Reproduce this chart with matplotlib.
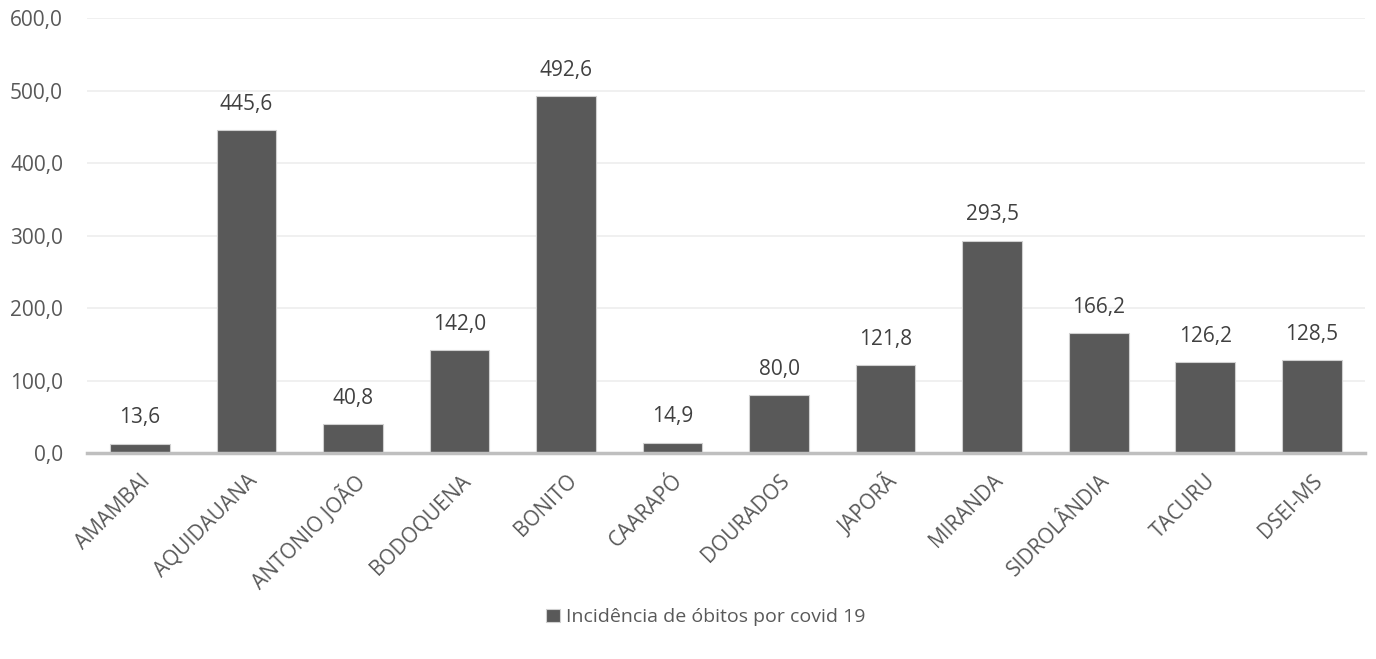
import matplotlib.pyplot as plt

# Data
municipios = ['AMAMBAI', 'AQUIDAUANA', 'ANTONIO JOÃO', 'BODOQUENA', 'BONITO', 'CAARAPÓ',
              'DOURADOS', 'JAPORÃ', 'MIRANDA', 'SIDROLÂNDIA', 'TACURU', 'DSEI-MS']
incidencia = [13.6, 445.6, 40.8, 142.0, 492.6, 14.9, 80.0, 121.8, 293.5, 166.2, 126.2, 128.5]
y_ticks = [0, 100, 200, 300, 400, 500, 600]

plt.rcParams['font.family'] = ['Open Sans', 'DejaVu Sans']
text_color = '#595959'

fig = plt.figure(figsize=(13.76, 6.59), dpi=100)
ax = fig.add_axes([0.063, 0.312, 0.929, 0.66])

x = range(len(municipios))
bars = ax.bar(x, incidencia, width=0.56, color='#595959', edgecolor='#d0d0d0',
              linewidth=0.8, label='Incidência de óbitos por covid 19', zorder=3)

# Data labels
for xi, v in zip(x, incidencia):
    ax.annotate(f'{v:.1f}'.replace('.', ','), (xi, v), xytext=(0, 11),
                textcoords='offset points', ha='center', va='bottom',
                fontsize=15, color='#404040')

ax.set_xlim(-0.5, len(municipios) - 0.5)
ax.set_ylim(0, 600)
ax.set_yticks(y_ticks)
ax.set_yticklabels([f'{t:.1f}'.replace('.', ',') for t in y_ticks], fontsize=15, color=text_color)
ax.set_xticks(list(x))
ax.set_xticklabels(municipios, rotation=45, ha='right', rotation_mode='anchor',
                   fontsize=15, color=text_color)
ax.tick_params(axis='both', length=0)
ax.tick_params(axis='y', pad=17)
ax.tick_params(axis='x', pad=12)

ax.grid(axis='y', color='#ededed', linewidth=1.2, zorder=0)
for s in ['top', 'right', 'left']:
    ax.spines[s].set_visible(False)
ax.spines['bottom'].set_color('#bfbfbf')
ax.spines['bottom'].set_linewidth(2.5)
ax.spines['bottom'].set_zorder(4)

fig.legend(handles=[bars], labels=['Incidência de óbitos por covid 19'], loc='center',
           bbox_to_anchor=(0.513, 0.063), frameon=False, fontsize=14,
           handlelength=0.7, handleheight=0.7, handletextpad=0.3, labelcolor=text_color)

fig.savefig('out.png', dpi=100)
